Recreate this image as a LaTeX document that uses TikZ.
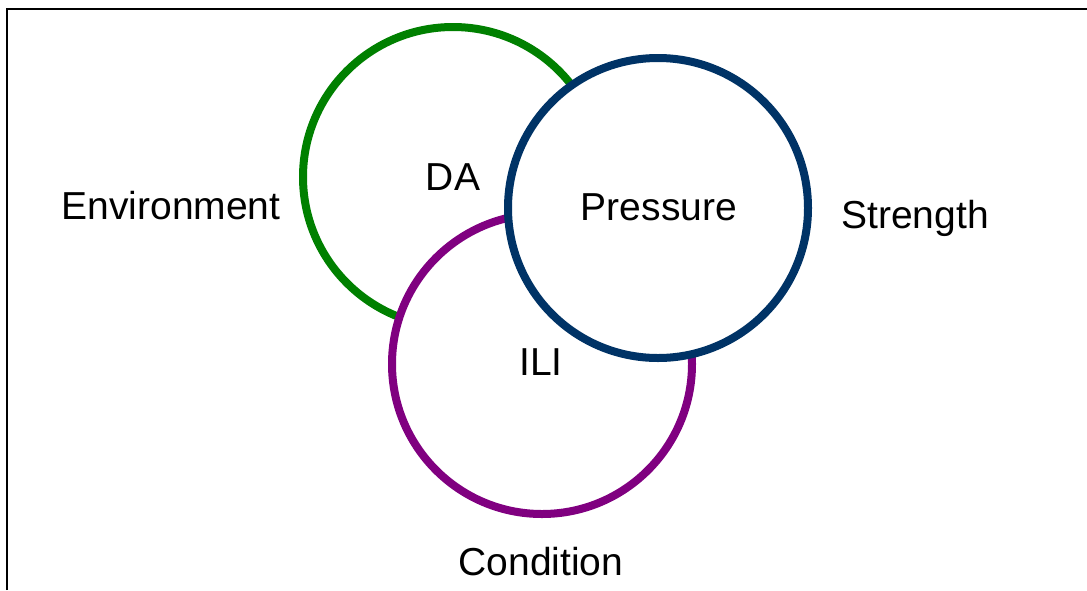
\documentclass[tikz,border=0pt]{standalone}
\usepackage{fontspec}
\setmainfont{Liberation Sans}
\usetikzlibrary{positioning}
\definecolor{vnInk}   {HTML}{000000}
\definecolor{vnGreen} {HTML}{008000}
\definecolor{vnPurple}{HTML}{800080}
\definecolor{vnNavy}  {HTML}{003366}
\tikzset{
  ring/.style={circle,draw=#1,line width=8pt,fill=white,inner sep=0,minimum size=300pt},
  lbl/.style={anchor=base,inner sep=0,font=\fontsize{39}{44}\selectfont,text=vnInk}
}
\begin{document}
\begin{tikzpicture}[x=1pt,y=-1pt]
    \useasboundingbox (0,0) rectangle (1087,590);
    % frame, open at the right and bottom
    \coordinate (fb) at (7,590);
    \coordinate (fc) at (7,9);
    \coordinate (fr) at (1087,9);
    \draw[line width=2.5pt,vnInk] (fb) -- (fc) -- (fr);
    % the three rings, drawn from back to front
    \node[ring=vnGreen]  (da)  at (453,177) {};
    \node[ring=vnPurple] (ili) at (542,364) {};
    \node[ring=vnNavy]   (pr)  at (658,208) {};
    % labels inside the rings
    \node[lbl] (tda)  at (453,190) {DA};
    \node[lbl] (tili) at (541,375) {ILI};
    \node[lbl] (tpr)  at (659,220) {Pressure};
    % labels round the rings
    \node[lbl] (tenv) at (171,219) {Environment};
    \node[lbl] (tstr) at (915,228) {Strength};
    \node[lbl] (tcon) at (541,575) {Condition};
  \end{tikzpicture}
\end{document}
